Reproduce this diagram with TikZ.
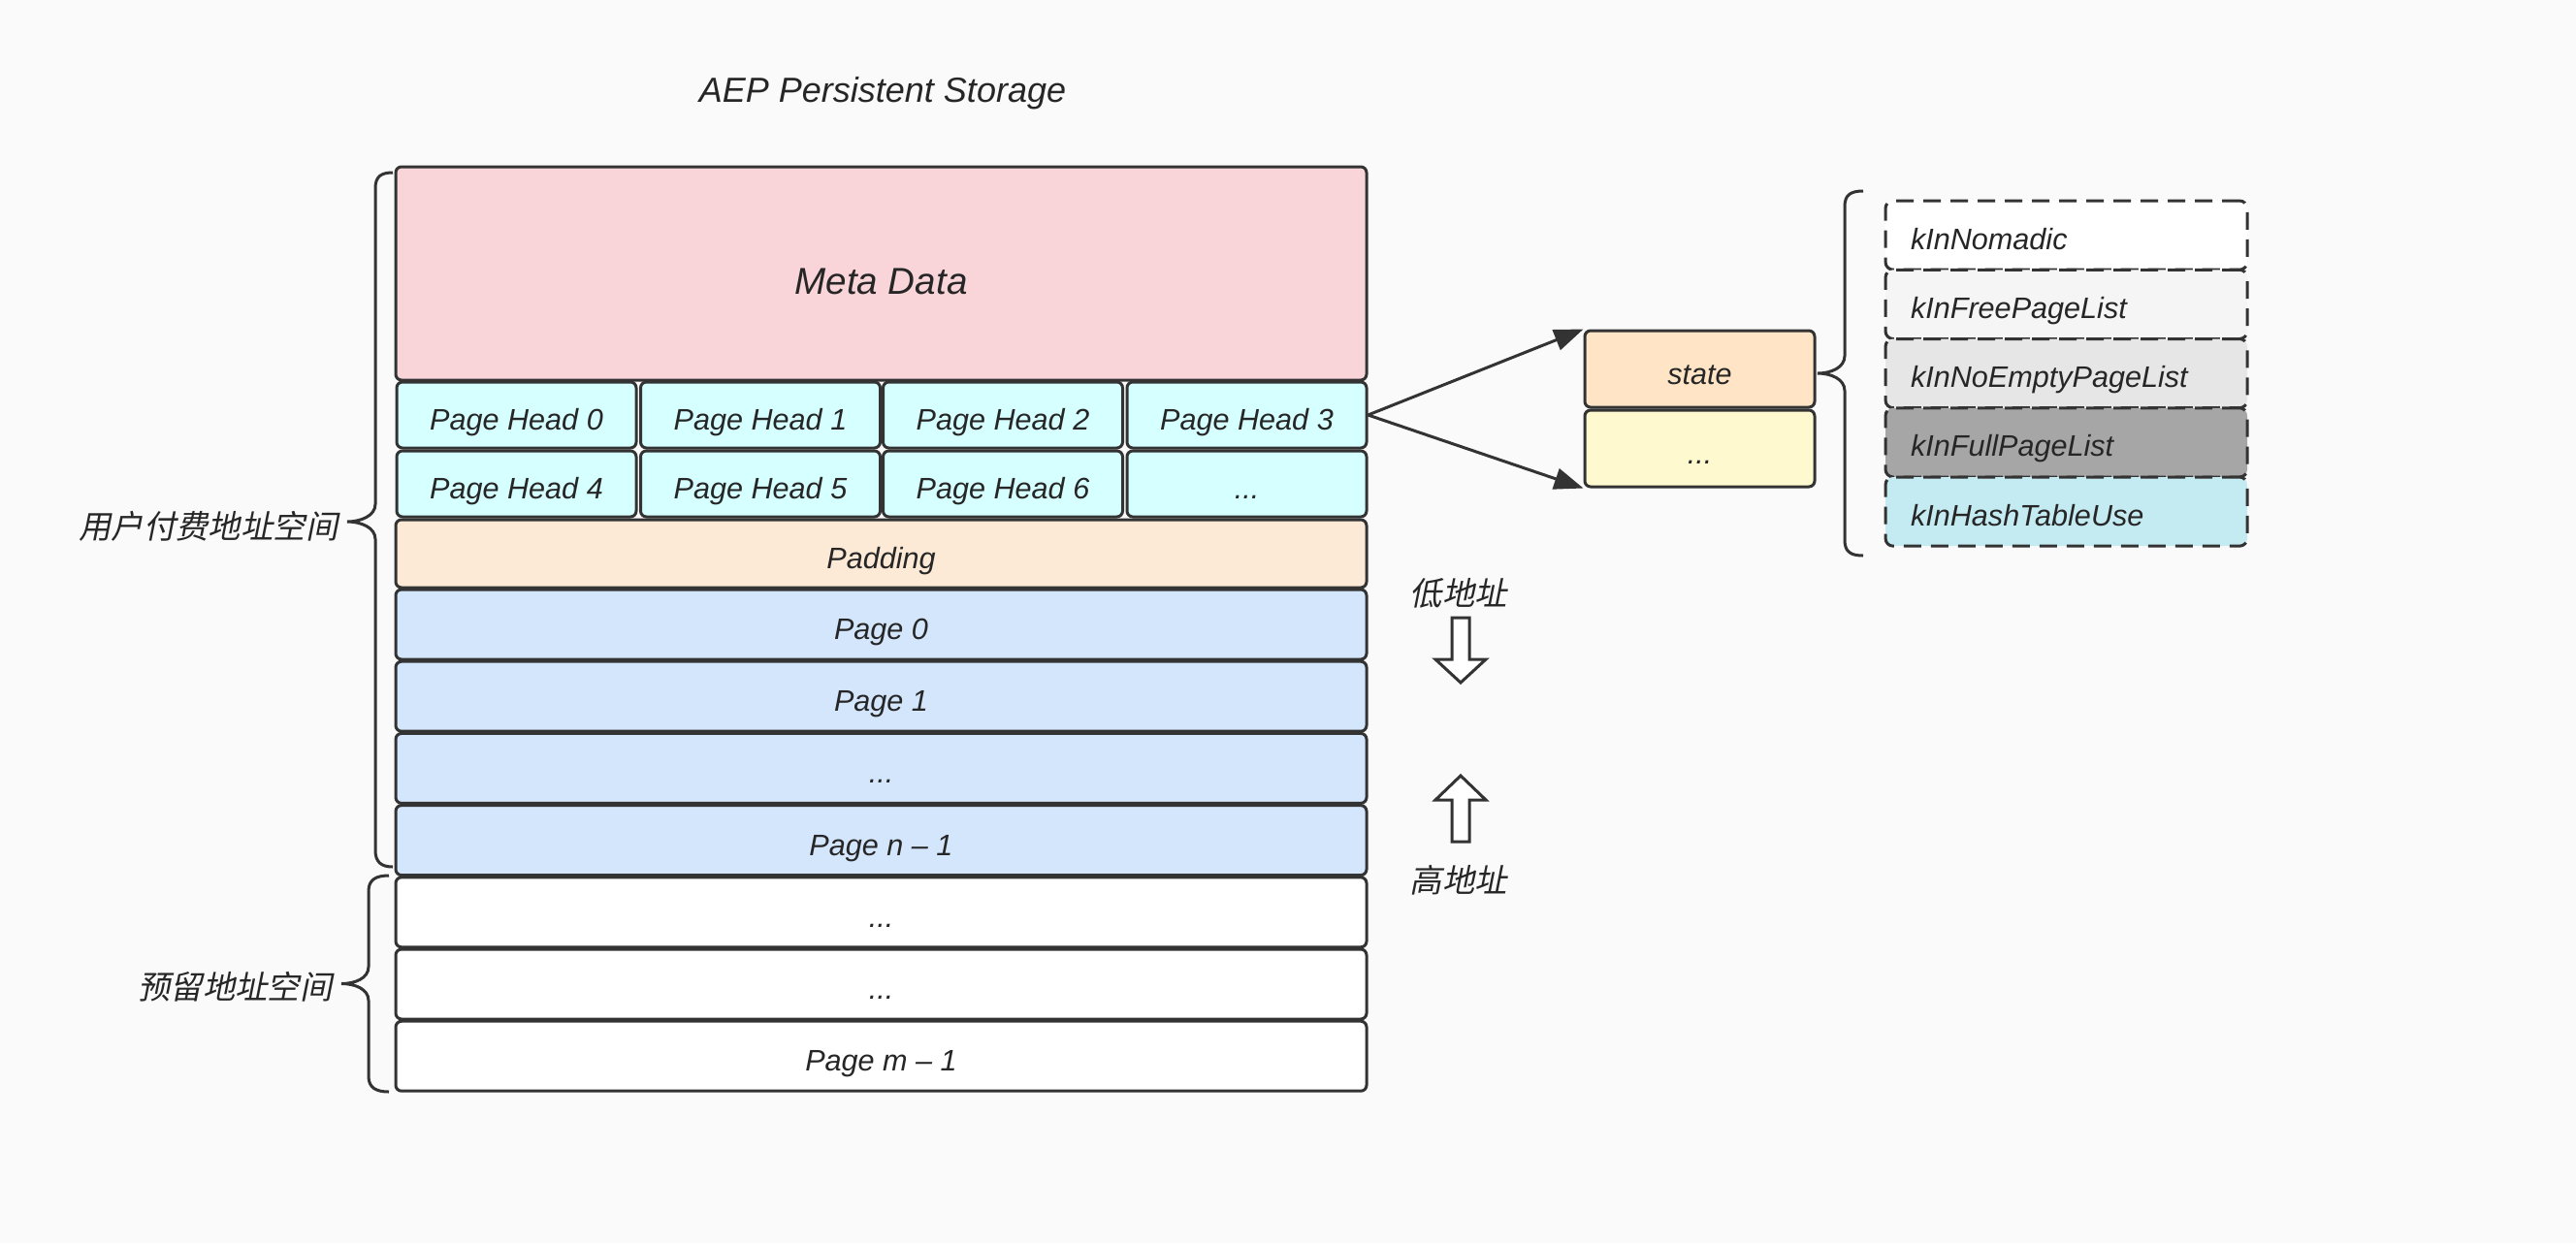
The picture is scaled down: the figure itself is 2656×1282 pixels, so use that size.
\documentclass[tikz,border=0pt]{standalone}
\usepackage{fontspec}
\setmainfont{Liberation Sans}
\newfontfamily\cjk{Noto Sans CJK SC}[FakeSlant=0.2]
\usetikzlibrary{arrows.meta}
\definecolor{bgc}{HTML}{FAFAFA}
\definecolor{strokec}{HTML}{333333}
\definecolor{textc}{HTML}{262626}
\definecolor{metac}{HTML}{F9D5DA}
\definecolor{phc}{HTML}{D6FFFF}
\definecolor{padc}{HTML}{FDEAD6}
\definecolor{pagec}{HTML}{D4E6FC}
\definecolor{statec}{HTML}{FFE5C6}
\definecolor{sdotc}{HTML}{FFF9CF}
\definecolor{freec}{HTML}{F5F5F5}
\definecolor{noemc}{HTML}{E6E6E6}
\definecolor{fullc}{HTML}{A6A6A6}
\definecolor{hashc}{HTML}{C5EBF2}
\tikzset{
  box/.style={draw=strokec, line width=1.5pt, rounded corners=3pt, inner sep=0pt,
    font=\fontsize{15.3}{18}\selectfont\itshape, text=textc,
    text height=15.5pt, text depth=0pt},
  rowbox/.style={box, minimum width=500.5pt, minimum height=36pt},
  phbox/.style={box, fill=phc, minimum width=123.5pt, minimum height=34pt},
  sbox/.style={box, minimum width=118.5pt, minimum height=39.5pt},
  lstbox/.style={draw=strokec, line width=1.5pt, dash pattern=on 9pt off 5pt,
    rounded corners=4pt, inner ysep=0pt, inner xsep=13pt, minimum height=35.6pt,
    text width=160.5pt, align=left, font=\fontsize{15.3}{18}\selectfont\itshape, text=textc,
    text height=14.5pt, text depth=0pt},
  brace/.style={draw=strokec, line width=1.5pt},
  hollow/.style={draw=strokec, fill=white, line width=1.5pt, line join=miter},
  conn/.style={draw=strokec, line width=1.5pt, -{Triangle[length=15pt,width=11pt]}},
  lbl/.style={inner sep=0pt, text=textc},
  cjklbl/.style={lbl, font=\cjk\fontsize{16.7}{20}\selectfont}
}
\begin{document}
\begin{tikzpicture}[x=0.5pt,y=-0.5pt]
\fill[bgc] (0,0) rectangle (2656,1282);
\useasboundingbox (0,0) rectangle (2656,1282);

% title
\node[lbl, anchor=base, font=\fontsize{18}{21}\selectfont\itshape] (title) at (910,105) {AEP Persistent Storage};

% main column
\node[box, fill=metac, minimum width=500.5pt, minimum height=110pt,
  font=\fontsize{19.3}{22}\selectfont\itshape, text height=21pt] (meta) at (908.5,282) {Meta Data};
\node[phbox] (ph0) at (532.5,428) {Page Head 0};
\node[phbox] (ph1) at (784,428) {Page Head 1};
\node[phbox] (ph2) at (1034,428) {Page Head 2};
\node[phbox] (ph3) at (1285.5,428) {Page Head 3};
\node[phbox] (ph4) at (532.5,499) {Page Head 4};
\node[phbox] (ph5) at (784,499) {Page Head 5};
\node[phbox] (ph6) at (1034,499) {Page Head 6};
\node[phbox] (ph7) at (1285.5,499) {...};
\node[rowbox, fill=padc, minimum height=35pt] (pad) at (908.5,571) {Padding};
\node[rowbox, fill=pagec] (pg0) at (908.5,644) {Page 0};
\node[rowbox, fill=pagec] (pg1) at (908.5,718.2) {Page 1};
\node[rowbox, fill=pagec] (pgd) at (908.5,792.4) {...};
\node[rowbox, fill=pagec] (pgn) at (908.5,866.6) {Page n – 1};
\node[rowbox, fill=white] (rs1) at (908.5,940.8) {...};
\node[rowbox, fill=white] (rs2) at (908.5,1015) {...};
\node[rowbox, fill=white] (pgm) at (908.5,1089.2) {Page m – 1};

% braces on the left
\draw[brace] (405,178) .. controls (393,178) and (387,182) .. (387,194) -- (387,520)
  .. controls (387,532) and (372,538) .. (358,538)
  .. controls (372,538) and (387,544) .. (387,556) -- (387,877)
  .. controls (387,889) and (393,894) .. (405,894);
\draw[brace] (401,903) .. controls (388,903) and (380,907) .. (380,919) -- (380,997)
  .. controls (380,1009) and (366,1014.5) .. (352,1014.5)
  .. controls (366,1014.5) and (380,1020) .. (380,1032) -- (380,1110)
  .. controls (380,1122) and (388,1126) .. (401,1126);
\node[cjklbl, anchor=east] (user) at (349,543) {用户付费地址空间};
\node[cjklbl, anchor=east] (resv) at (343,1018) {预留地址空间};

% address direction
\node[cjklbl] (low) at (1504,612) {低地址};
\node[cjklbl] (high) at (1504,908) {高地址};
\draw[hollow] (1497,637) -- (1515,637) -- (1515,680) -- (1532,680) -- (1506,704)
  -- (1480,680) -- (1497,680) -- cycle;
\draw[hollow] (1506,800) -- (1532,825) -- (1515,825) -- (1515,868) -- (1497,868)
  -- (1497,825) -- (1480,825) -- cycle;

% page head detail
\node[sbox, fill=statec] (state) at (1752.5,380.5) {state};
\node[sbox, fill=sdotc] (sdots) at (1752.5,462.5) {...};
\draw[conn] (ph3.east) -- (state.north west);
\draw[conn] (ph3.east) -- (sdots.south west);

% state brace
\draw[brace] (1921,197) .. controls (1908,197) and (1902,201) .. (1902,213) -- (1902,367)
  .. controls (1902,379) and (1888,385) .. (1874,385)
  .. controls (1888,385) and (1902,391) .. (1902,403) -- (1902,557)
  .. controls (1902,569) and (1908,573) .. (1921,573);

% state values
\node[lstbox, fill=white] (s1) at (2130.5,242.6) {kInNomadic};
\node[lstbox, fill=freec] (s2) at (2130.5,313.9) {kInFreePageList};
\node[lstbox, fill=noemc] (s3) at (2130.5,385.1) {kInNoEmptyPageList};
\node[lstbox, fill=fullc] (s4) at (2130.5,456.4) {kInFullPageList};
\node[lstbox, fill=hashc] (s5) at (2130.5,527.6) {kInHashTableUse};
\end{tikzpicture}
\end{document}
